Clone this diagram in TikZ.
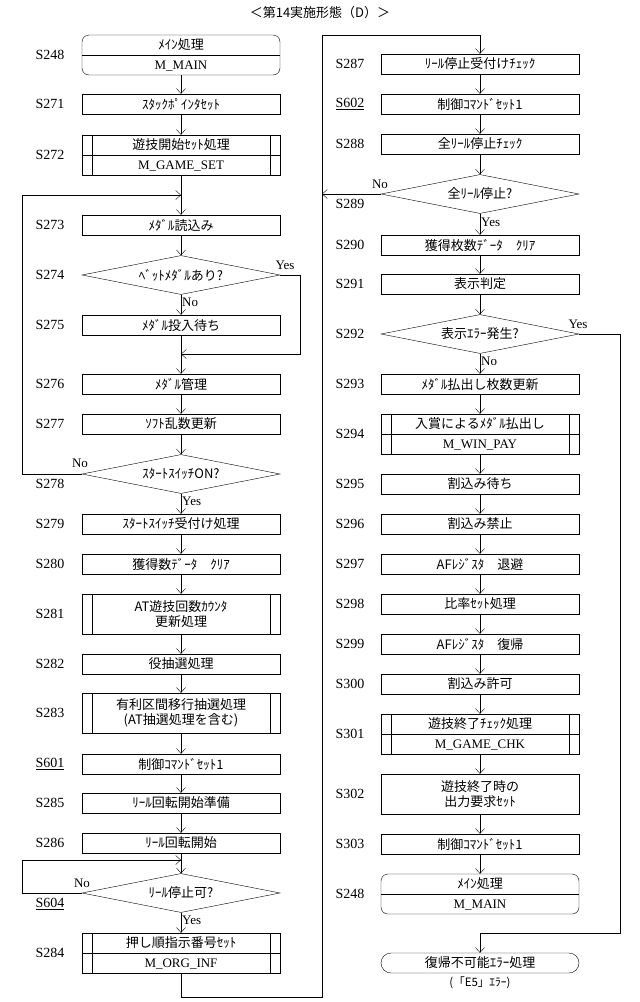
\documentclass[tikz,border=0pt]{standalone}
\usepackage{fontspec}
\setmainfont{Liberation Serif}
\newfontfamily\jp{Noto Sans CJK JP}
\usetikzlibrary{shapes.geometric,arrows.meta}
\tikzset{
	proc/.style={draw, rectangle, minimum width=198pt, minimum height=20pt, inner sep=0pt, font=\jp\fontsize{13}{15}\selectfont, align=center},
	tall/.style={proc, minimum height=40pt},
	term/.style={tall, rounded corners=7pt},
	decide/.style={draw, diamond, aspect=5, minimum width=198pt, minimum height=39pt, inner sep=0pt, font=\jp\fontsize{13}{15}\selectfont},
	steplabel/.style={font=\fontsize{14}{16}\selectfont},
	yn/.style={font=\fontsize{13}{15}\selectfont, inner sep=1pt}
}
\begin{document}
\begin{tikzpicture}[x=1pt, y=-1pt, ->, >={Straight Barb[length=5pt,width=9pt]}]
	\useasboundingbox (0,0) rectangle (640,1002);
	\node[font=\jp\fontsize{13}{15}\selectfont] (title) at (320,13) {＜第14実施形態（D）＞};
	% left column
	\node[term] (a248) at (181,55) {ﾒｲﾝ処理\\[5pt]{\rmfamily M\_MAIN}};
	\node[proc] (a271) at (181,104) {ｽﾀｯｸﾎﾟｲﾝﾀｾｯﾄ};
	\node[tall] (a272) at (181,155) {遊技開始ｾｯﾄ処理\\[5pt]{\rmfamily M\_GAME\_SET}};
	\coordinate (j1) at (181,195);
	\node[proc] (a273) at (181,225) {ﾒﾀﾞﾙ読込み};
	\node[decide] (a274) at (181,275) {ﾍﾞｯﾄﾒﾀﾞﾙあり?};
	\node[proc] (a275) at (181,325) {ﾒﾀﾞﾙ投入待ち};
	\coordinate (j2) at (181,354);
	\node[proc] (a276) at (181,384) {ﾒﾀﾞﾙ管理};
	\node[proc] (a277) at (181,424) {ｿﾌﾄ乱数更新};
	\node[decide] (a278) at (181,474) {ｽﾀｰﾄｽｲｯﾁON?};
	\node[proc] (a279) at (181,524) {ｽﾀｰﾄｽｲｯﾁ受付け処理};
	\node[proc] (a280) at (181,564) {獲得数ﾃﾞｰﾀ　ｸﾘｱ};
	\node[tall] (a281) at (181,614) {AT遊技回数ｶｳﾝﾀ\\更新処理};
	\node[proc] (a282) at (181,664) {役抽選処理};
	\node[tall] (a283) at (181,713) {有利区間移行抽選処理\\(AT抽選処理を含む)};
	\node[proc] (a601) at (181,764) {制御ｺﾏﾝﾄﾞｾｯﾄ1};
	\node[proc] (a285) at (181,803) {ﾘｰﾙ回転開始準備};
	\node[proc] (a286) at (181,843) {ﾘｰﾙ回転開始};
	\coordinate (j3) at (181,860);
	\node[decide] (a604) at (181,893) {ﾘｰﾙ停止可?};
	\node[tall] (a284) at (181,953) {押し順指示番号ｾｯﾄ\\[5pt]{\rmfamily M\_ORG\_INF}};
	% right column
	\coordinate (j4) at (480,35);
	\node[proc] (b287) at (480,64) {ﾘｰﾙ停止受付けﾁｪｯｸ};
	\node[proc] (b602) at (480,104) {制御ｺﾏﾝﾄﾞｾｯﾄ1};
	\node[proc] (b288) at (480,144) {全ﾘｰﾙ停止ﾁｪｯｸ};
	\node[decide] (b289) at (480,194) {全ﾘｰﾙ停止?};
	\node[proc] (b290) at (480,245) {獲得枚数ﾃﾞｰﾀ　ｸﾘｱ};
	\node[proc] (b291) at (480,284) {表示判定};
	\node[decide] (b292) at (480,334) {表示ｴﾗｰ発生?};
	\node[proc] (b293) at (480,384) {ﾒﾀﾞﾙ払出し枚数更新};
	\node[tall] (b294) at (480,434) {入賞によるﾒﾀﾞﾙ払出し\\[5pt]{\rmfamily M\_WIN\_PAY}};
	\node[proc] (b295) at (480,484) {割込み待ち};
	\node[proc] (b296) at (480,524) {割込み禁止};
	\node[proc] (b297) at (480,564) {AFﾚｼﾞｽﾀ　退避};
	\node[proc] (b298) at (480,604) {比率ｾｯﾄ処理};
	\node[proc] (b299) at (480,644) {AFﾚｼﾞｽﾀ　復帰};
	\node[proc] (b300) at (480,684) {割込み許可};
	\node[tall] (b301) at (480,734) {遊技終了ﾁｪｯｸ処理\\[5pt]{\rmfamily M\_GAME\_CHK}};
	\node[tall] (b302) at (480,794) {遊技終了時の\\出力要求ｾｯﾄ};
	\node[proc] (b303) at (480,844) {制御ｺﾏﾝﾄﾞｾｯﾄ1};
	\node[term] (b248) at (480,894) {ﾒｲﾝ処理\\[5pt]{\rmfamily M\_MAIN}};
	\coordinate (j5) at (480,933);
	\node[proc, rounded corners=10pt] (berr) at (480,963) {復帰不可能ｴﾗｰ処理};
	\node[font=\jp\fontsize{11.5}{13}\selectfont] (berrnote) at (480,983) {(「E5」ｴﾗｰ)};
	% split lines and side bars
	\foreach \n in {a248,a272,a284,b294,b301,b248}
		\draw[-] (\n.west) -- (\n.east);
	\foreach \n in {a272,a281,a283,a284,b294,b301}{
		\draw[-] ([xshift=10pt]\n.north west) -- ([xshift=10pt]\n.south west);
		\draw[-] ([xshift=-10pt]\n.north east) -- ([xshift=-10pt]\n.south east);
	}
	% step labels
	\foreach \n/\t/\y in {248/S248/55,271/S271/104,272/S272/155,273/S273/225,274/S274/275,275/S275/325,276/S276/384,277/S277/424,278/S278/484,279/S279/524,280/S280/564,281/S281/614,282/S282/664,283/S283/713,601/\underline{S601}/764,285/S285/803,286/S286/843,604/\underline{S604}/904,284/S284/953}
		\node[steplabel] (la\n) at (50,\y) {\t};
	\foreach \n/\t/\y in {287/S287/64,602/\underline{S602}/104,288/S288/144,289/S289/204,290/S290/245,291/S291/284,292/S292/334,293/S293/384,294/S294/434,295/S295/484,296/S296/524,297/S297/564,298/S298/604,299/S299/644,300/S300/684,301/S301/734,302/S302/794,303/S303/844,248/S248/894}
		\node[steplabel] (lb\n) at (350,\y) {\t};
	% left flow
	\draw (a248) -- (a271);
	\draw (a271) -- (a272);
	\draw (a272) -- (a273);
	\draw (a273) -- (a274);
	\draw (a274) -- node[yn, right, pos=0.4] {No} (a275);
	\draw (a275) -- (a276);
	\draw (a274.east) -- (300,275) -- (300,354) -- (j2);
	\node[yn] (y274) at (285,265) {Yes};
	\draw (a276) -- (a277);
	\draw (a277) -- (a278);
	\draw (a278.west) -- (22,474) -- (22,195) -- (j1);
	\node[yn] (n278) at (80,463) {No};
	\draw (a278) -- node[yn, right, pos=0.4] {Yes} (a279);
	\draw (a279) -- (a280);
	\draw (a280) -- (a281);
	\draw (a281) -- (a282);
	\draw (a282) -- (a283);
	\draw (a283) -- (a601);
	\draw (a601) -- (a285);
	\draw (a285) -- (a286);
	\draw (a286) -- (a604);
	\draw (a604.west) -- (22,893) -- (22,860) -- (j3);
	\node[yn] (n604) at (82,883) {No};
	\draw (a604) -- node[yn, right, pos=0.4] {Yes} (a284);
	\draw (a284.south) -- (181,997) -- (322,997) -- (322,35) -- (j4) -- (b287);
	% right flow
	\draw (b287) -- (b602);
	\draw (b602) -- (b288);
	\draw (b288) -- (b289);
	\draw (b289.west) -- (322,194);
	\node[yn] (n289) at (380,184) {No};
	\draw (b289) -- node[yn, right, pos=0.4] {Yes} (b290);
	\draw (b290) -- (b291);
	\draw (b291) -- (b292);
	\draw (b292) -- node[yn, right, pos=0.4] {No} (b293);
	\draw (b292.east) -- (620,334) -- (620,933) -- (j5) -- (berr);
	\node[yn] (y292) at (578,324) {Yes};
	\draw (b293) -- (b294);
	\draw (b294) -- (b295);
	\draw (b295) -- (b296);
	\draw (b296) -- (b297);
	\draw (b297) -- (b298);
	\draw (b298) -- (b299);
	\draw (b299) -- (b300);
	\draw (b300) -- (b301);
	\draw (b301) -- (b302);
	\draw (b302) -- (b303);
	\draw (b303) -- (b248);
\end{tikzpicture}
\end{document}
